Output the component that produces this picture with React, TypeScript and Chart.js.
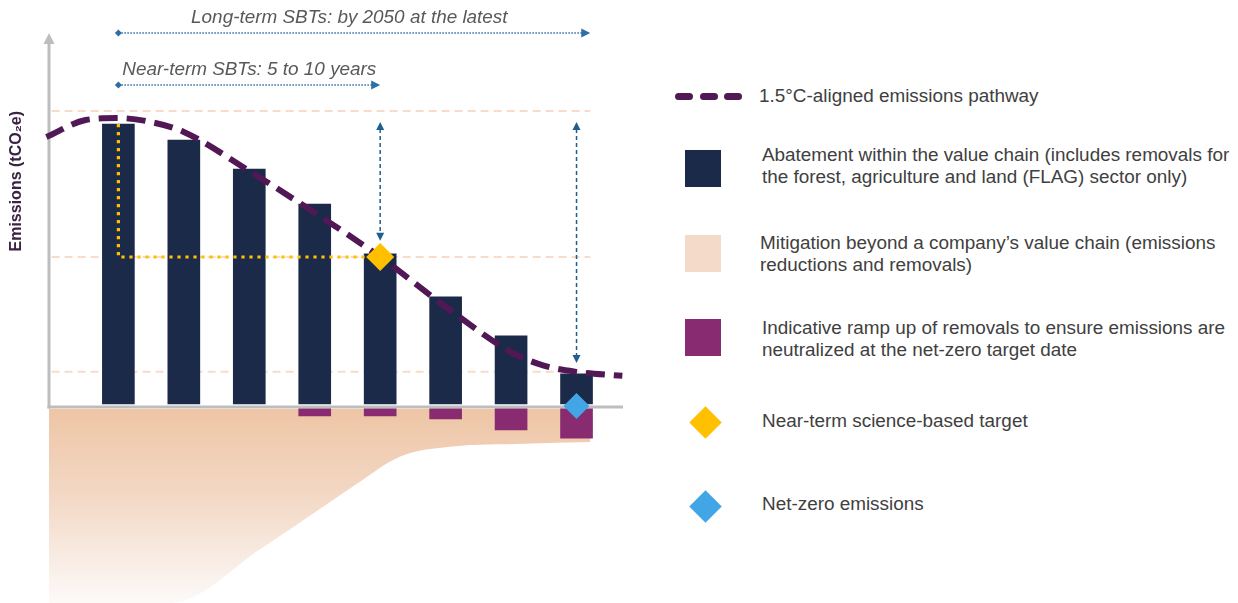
import React, { useEffect, useRef } from "react";
import { Chart, registerables } from "chart.js";

Chart.register(...registerables);

const FONT = "Arial, 'Liberation Sans', Helvetica, sans-serif";

// Time steps (bar positions) and emissions in relative units (first year = 100)
const STEPS = [1, 2, 3, 4, 5, 6, 7, 8];
const ABATEMENT = [100, 94.3, 84.1, 71.7, 54.1, 38.9, 25.1, 11.7];
const REMOVALS = [null, null, null, -3.2, -3.2, -4.2, -8.1, -11.0];

// 1.5°C-aligned pathway
const PATHWAY_X = [-0.1, 0.5, 1, 1.5, 2, 3, 4, 5, 6, 7, 7.5, 8, 8.7];
const PATHWAY_Y = [95.4, 101.4, 102.1, 100.7, 97.2, 83.4, 68.6, 53.0, 35.4, 19.4, 14.6, 12.4, 11.0];

// Lower edge of the beyond-value-chain mitigation band
const MITIGATION_X = [-0.11, 1.8, 3.2, 4.6, 5.3, 6.1, 7.2, 8.21];
const MITIGATION_Y = [-69.3, -69.3, -49.8, -27.9, -17.6, -14.0, -13.0, -12.4];
const MITIGATION_TOP = -0.7;

// Reference levels (base year, near-term target, residual emissions)
const REF_LEVELS = [104.6, 53.0, 12.4];
const REF_SPAN = [-0.02, 8.21];

// Near-term target trace and markers
const TARGET_TRACE_X = [1, 1, 5];
const TARGET_TRACE_Y = [100, 53.0, 53.0];
const NEAR_TERM_POINT = { x: 5, y: 53.0 };
const NET_ZERO_POINT = { x: 8, y: 0.35 };

// Timeline arrows: [start step, end step, level]
const LONG_TERM_SPAN = [1, 8.21, 132.2];
const NEAR_TERM_SPAN = [1, 5, 113.8];
const LONG_TERM_TEXT = "Long-term SBTs: by 2050 at the latest";
const NEAR_TERM_TEXT = "Near-term SBTs: 5 to 10 years";

// Vertical gap arrows: [step, top level, bottom level]
const GAP_ARROWS = [
  [5, 100.7, 58.7],
  [8, 100.7, 15.5],
];
const AXIS_TOP = 132.2;

const Y_TITLE = "Emissions (tCO₂e)";

const LEGEND_LABELS = [
  ["1.5°C-aligned emissions pathway"],
  ["Abatement within the value chain (includes removals for", "the forest, agriculture and land (FLAG) sector only)"],
  ["Mitigation beyond a company’s value chain (emissions", "reductions and removals)"],
  ["Indicative ramp up of removals to ensure emissions are", "neutralized at the net-zero target date"],
  ["Near-term science-based target"],
  ["Net-zero emissions"],
];

const C = {
  navy: "#1c2a4a",
  plum: "#892b70",
  pathway: "#521856",
  peachLine: "#f8dbc8",
  peach: "#f4dac8",
  yellow: "#ffc000",
  blue: "#42a5e6",
  arrow: "#1f5f8f",
  arrowDot: "#2e6ea6",
  axis: "#bdbdbd",
  note: "#595959",
  legendText: "#404040",
  yTitle: "#3a2343",
};

function head(ctx: CanvasRenderingContext2D, x: number, y: number, dx: number, dy: number, len: number, half: number) {
  ctx.beginPath();
  ctx.moveTo(x, y);
  ctx.lineTo(x - dx * len - dy * half, y - dy * len + dx * half);
  ctx.lineTo(x - dx * len + dy * half, y - dy * len - dx * half);
  ctx.closePath();
  ctx.fill();
}

const overlay = {
  id: "overlay",
  beforeDatasetsDraw(chart: any) {
    const { ctx, scales } = chart;
    const xs = scales.x;
    const ys = scales.y;
    const x0 = xs.getPixelForValue(xs.min);
    const y0 = ys.getPixelForValue(0);
    const yTop = ys.getPixelForValue(AXIS_TOP);
    ctx.save();
    ctx.strokeStyle = C.axis;
    ctx.fillStyle = C.axis;
    ctx.lineWidth = 3;
    ctx.beginPath();
    ctx.moveTo(x0, y0 + 1.5);
    ctx.lineTo(x0, yTop + 9);
    ctx.stroke();
    head(ctx, x0, yTop, 0, -1, 11, 5.5);
    ctx.beginPath();
    ctx.moveTo(x0 - 1.5, y0);
    ctx.lineTo(xs.getPixelForValue(xs.max), y0);
    ctx.stroke();
    ctx.restore();
  },
  afterDatasetsDraw(chart: any) {
    const { ctx, scales } = chart;
    const xs = scales.x;
    const ys = scales.y;
    ctx.save();

    // vertical gap arrows
    ctx.strokeStyle = C.arrow;
    ctx.fillStyle = C.arrow;
    ctx.lineWidth = 1.5;
    for (const [step, top, bottom] of GAP_ARROWS) {
      const px = xs.getPixelForValue(step);
      const pt = ys.getPixelForValue(top);
      const pb = ys.getPixelForValue(bottom);
      ctx.setLineDash([4, 3]);
      ctx.beginPath();
      ctx.moveTo(px, pt + 7);
      ctx.lineTo(px, pb - 7);
      ctx.stroke();
      ctx.setLineDash([]);
      head(ctx, px, pt, 0, -1, 8, 4);
      head(ctx, px, pb, 0, 1, 8, 4);
    }

    // timeline arrows with captions (caption shift in px)
    const spans: [number[], string, number][] = [
      [LONG_TERM_SPAN, LONG_TERM_TEXT, -5],
      [NEAR_TERM_SPAN, NEAR_TERM_TEXT, 0],
    ];
    for (const [[a, b, lvl], text, shift] of spans) {
      const x1 = xs.getPixelForValue(a);
      const x2 = xs.getPixelForValue(b);
      const py = ys.getPixelForValue(lvl);
      ctx.strokeStyle = C.arrowDot;
      ctx.fillStyle = C.arrowDot;
      ctx.lineWidth = 1.5;
      ctx.setLineDash([1.5, 1.5]);
      ctx.beginPath();
      ctx.moveTo(x1, py);
      ctx.lineTo(x2 - 8, py);
      ctx.stroke();
      ctx.setLineDash([]);
      ctx.beginPath();
      ctx.moveTo(x1 - 3.5, py);
      ctx.lineTo(x1, py - 3.5);
      ctx.lineTo(x1 + 3.5, py);
      ctx.lineTo(x1, py + 3.5);
      ctx.closePath();
      ctx.fill();
      head(ctx, x2, py, 1, 0, 9, 4.5);

      ctx.fillStyle = C.note;
      ctx.font = `italic 18.9px ${FONT}`;
      ctx.textAlign = "center";
      ctx.textBaseline = "middle";
      ctx.fillText(text, (x1 + x2) / 2 + shift, py - 15.5);
    }
    ctx.restore();
  },
};

function buildConfig(): any {
  const pts = (xs: number[], ys: (number | null)[]) => xs.map((x, i) => ({ x, y: ys[i] }));
  const refSets = REF_LEVELS.map((lvl) => ({
    type: "line",
    data: [
      { x: REF_SPAN[0], y: lvl },
      { x: REF_SPAN[1], y: lvl },
    ],
    borderColor: C.peachLine,
    borderWidth: 2,
    borderDash: [8, 5],
    pointRadius: 0,
    fill: false,
    clip: false,
    order: 10,
  }));

  return {
    type: "bar",
    data: {
      datasets: [
        ...refSets,
        {
          type: "line",
          data: pts(MITIGATION_X, MITIGATION_Y),
          borderColor: "rgba(0,0,0,0)",
          borderWidth: 1,
          pointRadius: 0,
          cubicInterpolationMode: "monotone",
          fill: { value: MITIGATION_TOP },
          backgroundColor: (c: any) => {
            const chart = c.chart;
            const area = chart.chartArea;
            if (!area) return C.peach;
            const top = chart.scales.y.getPixelForValue(MITIGATION_TOP);
            const g = chart.ctx.createLinearGradient(0, top, 0, area.bottom);
            g.addColorStop(0, "#eec5a5");
            g.addColorStop(0.45, "#f3d8c5");
            g.addColorStop(1, "#fcfaf9");
            return g;
          },
          order: 9,
        },
        {
          type: "bar",
          data: pts(STEPS, REMOVALS),
          backgroundColor: C.plum,
          base: MITIGATION_TOP,
          barThickness: 32,
          grouped: false,
          clip: false,
          order: 8,
        },
        {
          type: "bar",
          data: pts(STEPS, ABATEMENT),
          backgroundColor: C.navy,
          base: 1.06,
          barThickness: 32,
          grouped: false,
          clip: false,
          order: 7,
        },
        {
          type: "line",
          data: pts(TARGET_TRACE_X, TARGET_TRACE_Y),
          borderColor: C.yellow,
          borderWidth: 3.2,
          borderDash: [3.2, 4.8],
          pointRadius: 0,
          fill: false,
          clip: false,
          order: 6,
        },
        {
          type: "line",
          data: pts(PATHWAY_X, PATHWAY_Y),
          borderColor: C.pathway,
          borderWidth: 6,
          borderDash: [19, 9],
          cubicInterpolationMode: "monotone",
          pointRadius: 0,
          fill: false,
          clip: false,
          order: 5,
        },
        {
          type: "line",
          data: [NEAR_TERM_POINT],
          showLine: false,
          pointStyle: "rectRot",
          pointRadius: 14,
          pointHoverRadius: 0,
          pointBorderWidth: 0,
          pointBackgroundColor: C.yellow,
          backgroundColor: C.yellow,
          borderColor: C.yellow,
          clip: false,
          order: 2,
        },
        {
          type: "line",
          data: [NET_ZERO_POINT],
          showLine: false,
          pointStyle: "rectRot",
          pointRadius: 13,
          pointHoverRadius: 0,
          pointBorderWidth: 0,
          pointBackgroundColor: C.blue,
          backgroundColor: C.blue,
          borderColor: C.blue,
          clip: false,
          order: 1,
        },
      ],
    },
    options: {
      animation: false,
      responsive: false,
      devicePixelRatio: 1,
      events: [],
      layout: { autoPadding: false, padding: { top: 111, right: 17, bottom: 0, left: 0 } },
      plugins: { legend: { display: false }, tooltip: { enabled: false } },
      scales: {
        x: { type: "linear", display: false, offset: false, min: -0.06, max: 8.71 },
        y: {
          type: "linear",
          min: -69.3,
          max: 104.6,
          grid: { display: false, drawTicks: false },
          border: { display: false },
          ticks: { display: false },
          title: {
            display: true,
            text: Y_TITLE,
            align: "end",
            color: C.yTitle,
            font: { size: 16, weight: "bold", family: FONT, lineHeight: 1.2 },
            padding: { top: 7.4, bottom: 22.4 },
          },
        },
      },
    },
    plugins: [overlay],
  };
}

function Marker({ i }: { i: number }) {
  if (i === 0) {
    return (
      <div style={{ position: "absolute", left: 675, top: 93, width: 68, height: 7 }}>
        {[0, 25, 49].map((l) => (
          <div key={l} style={{ position: "absolute", left: l, top: 0, width: 18, height: 7, borderRadius: 4, background: C.pathway }} />
        ))}
      </div>
    );
  }
  const squares: Record<number, [number, string]> = { 1: [150, C.navy], 2: [235, C.peach], 3: [319, C.plum] };
  if (squares[i]) {
    const [top, color] = squares[i];
    return <div style={{ position: "absolute", left: 685, top, width: 36, height: 37, background: color }} />;
  }
  const cy = i === 4 ? 422 : 506;
  const color = i === 4 ? C.yellow : C.blue;
  return (
    <div
      style={{
        position: "absolute",
        left: 705 - 11.5,
        top: cy - 11.5,
        width: 23,
        height: 23,
        background: color,
        transform: "rotate(45deg)",
      }}
    />
  );
}

const LEGEND_TOPS = [85, 144, 232, 317, 410, 493];
const LEGEND_LEFTS = [759, 762, 760, 762, 762, 762];

function Legend() {
  return (
    <>
      {LEGEND_LABELS.map((lines, i) => (
        <React.Fragment key={i}>
          <Marker i={i} />
          <div
            style={{
              position: "absolute",
              left: LEGEND_LEFTS[i],
              top: LEGEND_TOPS[i],
              font: `18.9px/22px ${FONT}`,
              color: C.legendText,
              whiteSpace: "nowrap",
            }}
          >
            {lines.map((l, j) => (
              <div key={j}>{l}</div>
            ))}
          </div>
        </React.Fragment>
      ))}
    </>
  );
}

export default function App() {
  const ref = useRef<HTMLCanvasElement>(null);
  useEffect(() => {
    const chart = new Chart(ref.current as HTMLCanvasElement, buildConfig());
    return () => chart.destroy();
  }, []);
  return (
    <div
      style={{
        position: "fixed",
        left: 0,
        top: 0,
        width: 1238,
        height: 603,
        background: "#ffffff",
        overflow: "hidden",
        fontFamily: FONT,
      }}
    >
      <canvas ref={ref} width={640} height={603} style={{ position: "absolute", left: 0, top: 0, width: 640, height: 603 }} />
      <Legend />
    </div>
  );
}
